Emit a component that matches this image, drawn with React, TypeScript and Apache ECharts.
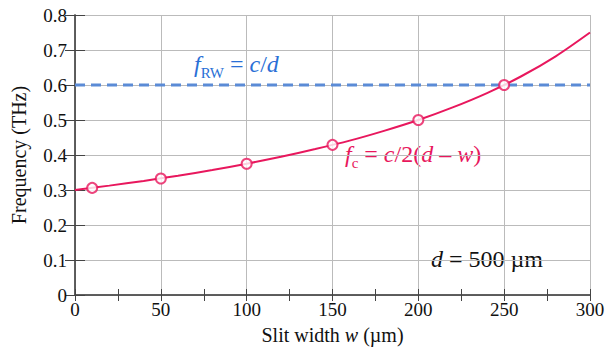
import React, { useEffect, useRef } from "react";
import * as echarts from "echarts";

const curveW = [0, 20, 40, 60, 80, 100, 120, 140, 160, 180, 200, 220, 240, 260, 280, 300];
const curveF = [0.300, 0.3125, 0.326, 0.341, 0.357, 0.375, 0.395, 0.417, 0.441, 0.469, 0.500, 0.536, 0.577, 0.625, 0.682, 0.750];
const markW = [10, 50, 100, 150, 200, 250];
const markF = [0.306, 0.333, 0.375, 0.429, 0.500, 0.600];
const rwW = [0, 300];
const rwF = [0.6, 0.6];

const serif = "'Liberation Serif', 'Times New Roman', serif";
const pink = "#e8175d";
const blue = "#5b8bd6";

export default function App() {
  const ref = useRef<HTMLDivElement>(null);
  useEffect(() => {
    if (!ref.current) return;
    const chart = echarts.init(ref.current, null, { renderer: "svg" });
    const axisLine = { show: true, lineStyle: { color: "#555", width: 1.5 } };
    chart.setOption({
      animation: false,
      textStyle: { fontFamily: serif },
      grid: { left: 75, right: 24, top: 15, bottom: 52 },
      xAxis: [
        {
          type: "value", min: 0, max: 300, interval: 50,
          axisLine, axisTick: { inside: true, length: 6, lineStyle: { color: "#444" } },
          minorTick: { show: true, splitNumber: 2, length: 6, lineStyle: { color: "#444" } },
          splitLine: { show: true, lineStyle: { color: "#bbb", width: 1 } },
          axisLabel: { color: "#111", fontFamily: serif, fontSize: 19, margin: 5 },
          name: "{a|Slit width }{i|w}{a| (µm)}",
          nameLocation: "middle", nameGap: 30,
          nameTextStyle: {
            fontFamily: serif,
            rich: {
              a: { fontFamily: serif, fontSize: 20, color: "#111" },
              i: { fontFamily: serif, fontSize: 20, color: "#111", fontStyle: "italic" },
            },
          },
        },
        {
          type: "value", position: "top", min: 0, max: 300, interval: 50,
          axisLine, axisTick: { inside: true, length: 6, lineStyle: { color: "#444" } },
          minorTick: { show: true, splitNumber: 2, length: 6, lineStyle: { color: "#444" } },
          splitLine: { show: false }, axisLabel: { show: false },
        },
      ],
      yAxis: [
        {
          type: "value", min: 0, max: 0.8, interval: 0.1,
          axisLine, axisTick: { inside: true, length: 10, lineStyle: { color: "#444" } },
          splitLine: { show: true, lineStyle: { color: "#bbb", width: 1 } },
          axisLabel: {
            color: "#111", fontFamily: serif, fontSize: 19, margin: 8,
            formatter: (v: number) => (v === 0 ? "0" : v.toFixed(1)),
          },
          name: "Frequency (THz)", nameLocation: "middle", nameGap: 46,
          nameTextStyle: { fontFamily: serif, fontSize: 20, color: "#111" },
        },
        {
          type: "value", position: "right", min: 0, max: 0.8, interval: 0.1,
          axisLine, axisTick: { inside: true, length: 10, lineStyle: { color: "#444" } },
          splitLine: { show: false }, axisLabel: { show: false },
        },
      ],
      series: [
        {
          type: "line", data: rwW.map((w, i) => [w, rwF[i]]), showSymbol: false,
          lineStyle: { color: blue, width: 3, type: [10, 6] }, z: 3,
        },
        {
          type: "line", data: curveW.map((w, i) => [w, curveF[i]]), showSymbol: false,
          smooth: 0.3, lineStyle: { color: pink, width: 2 }, z: 4,
        },
        {
          type: "scatter", data: markW.map((w, i) => [w, markF[i]]),
          symbol: "circle", symbolSize: 10,
          itemStyle: { color: "#fff", borderColor: pink, borderWidth: 2 }, z: 5,
        },
      ],
      graphic: [
        {
          type: "text", left: 194, top: 52,
          style: {
            text: "{i|f}{s|RW}{n| = }{i|c}{n|/}{i|d}",
            rich: {
              i: { fontFamily: serif, fontSize: 24, fontStyle: "italic", fill: "#2a6fd6", verticalAlign: "bottom", lineHeight: 28 },
              n: { fontFamily: serif, fontSize: 24, fill: "#2a6fd6", verticalAlign: "bottom", lineHeight: 28 },
              s: { fontFamily: serif, fontSize: 15, fill: "#2a6fd6", verticalAlign: "bottom", lineHeight: 20, padding: [0, 0, -4, 0] },
            },
          },
        },
        {
          type: "text", left: 345, top: 142,
          style: {
            text: "{i|f}{s|c}{n| = }{i|c}{n|/2(}{i|d}{n| – }{i|w}{n|)}",
            rich: {
              i: { fontFamily: serif, fontSize: 24, fontStyle: "italic", fill: pink, verticalAlign: "bottom", lineHeight: 28 },
              n: { fontFamily: serif, fontSize: 24, fill: pink, verticalAlign: "bottom", lineHeight: 28 },
              s: { fontFamily: serif, fontSize: 15, fill: pink, verticalAlign: "bottom", lineHeight: 20, padding: [0, 0, -4, 0] },
            },
          },
        },
        {
          type: "text", left: 431, top: 247,
          style: {
            text: "{i|d}{n| = 500 µm}",
            rich: {
              i: { fontFamily: serif, fontSize: 24, fontStyle: "italic", fill: "#111" },
              n: { fontFamily: serif, fontSize: 24, fill: "#111" },
            },
          },
        },
      ],
    });
    return () => chart.dispose();
  }, []);
  return <div ref={ref} style={{ position: "absolute", left: 0, top: 0, width: 614, height: 350 }} />;
}
